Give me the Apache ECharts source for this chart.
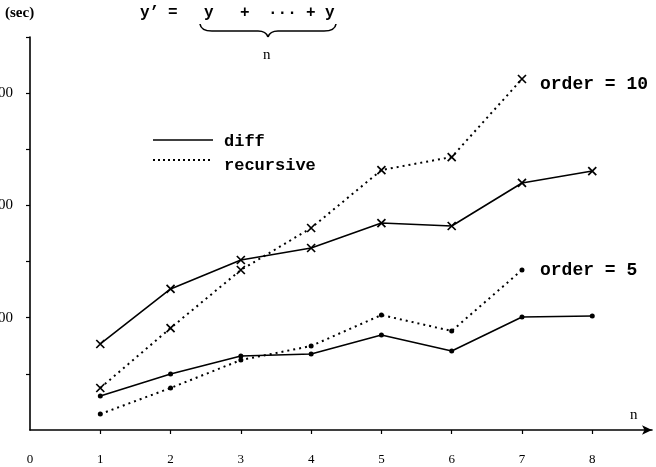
<!DOCTYPE html>
<html>
<head>
<meta charset="utf-8">
<script src="https://cdn.jsdelivr.net/npm/echarts@6/dist/echarts.min.js"></script>
<style>html,body{margin:0;padding:0;background:#fff}#c{width:656px;height:467px}</style>
</head>
<body>
<div id="c"></div>
<script>
const nValues = [1, 2, 3, 4, 5, 6, 7, 8];
const diffOrder10 = [76.6, 125.6, 151.4, 162.1, 184.3, 181.7, 220.0, 230.6];
const recursiveOrder10 = [37.4, 90.8, 142.5, 179.9, 231.5, 243.1, 312.6];
const diffOrder5 = [30.3, 49.9, 65.9, 67.7, 84.6, 70.3, 100.6, 101.5];
const recursiveOrder5 = [14.2, 37.4, 62.3, 74.8, 102.4, 88.2, 142.5];
const xTickLabels = [0, 1, 2, 3, 4, 5, 6, 7, 8];
const yTickLabels = [100, 200, 300];
const yMinorTicks = [50, 100, 150, 200, 250, 300, 350];

const pairs = (vals) => vals.map((v, i) => [nValues[i], v]);
const crossPath = 'path://M0,0L10,10M10,0L0,10';
const serif = '"Liberation Serif", "DejaVu Serif", serif';
const mono = '"Liberation Mono", "DejaVu Sans Mono", monospace';

function makeSeries(name, vals, dotted, cross) {
  return {
    name: name,
    type: 'line',
    data: pairs(vals),
    symbol: cross ? crossPath : 'circle',
    symbolSize: cross ? 8 : 5,
    showSymbol: true,
    itemStyle: cross ? { color: 'rgba(0,0,0,0)', borderColor: '#000', borderWidth: 1.7 } : { color: '#000', borderWidth: 0 },
    lineStyle: { color: '#000', width: dotted ? 2 : 1.6, type: dotted ? [2, 4] : 'solid' },
    emphasis: { disabled: true },
    animation: false
  };
}

const strokeStyle = { fill: 'none', stroke: '#000', lineWidth: 1.6 };

const chart = echarts.init(document.getElementById('c'), null, { renderer: 'canvas' });
chart.setOption({
  backgroundColor: '#fff',
  animation: false,
  grid: { left: 30, right: 4, top: 37, bottom: 37, containLabel: false, outerBoundsMode: 'none' },
  xAxis: {
    type: 'value', min: 0, max: 8.85,
    axisLine: { show: true, lineStyle: { color: '#000', width: 1.6 }, symbol: ['none', 'arrow'], symbolSize: [7, 10] },
    axisTick: { show: true, inside: false, length: 4, lineStyle: { color: '#000', width: 1.2 }, customValues: xTickLabels.slice(1) },
    axisLabel: { show: true, margin: 23, color: '#000', fontFamily: serif, fontSize: 13, customValues: xTickLabels },
    splitLine: { show: false }
  },
  yAxis: {
    type: 'value', min: 0, max: 350,
    axisLine: { show: true, lineStyle: { color: '#000', width: 1.6 } },
    axisTick: { show: true, inside: false, length: 4, lineStyle: { color: '#000', width: 1.2 }, customValues: yMinorTicks },
    axisLabel: { show: true, margin: 17, color: '#000', fontFamily: serif, fontSize: 15, customValues: yTickLabels },
    splitLine: { show: false }
  },
  legend: {
    orient: 'vertical', left: 150, top: 128, itemWidth: 62, itemHeight: 12, itemGap: 7,
    data: [{ name: 'diff', icon: 'none' }, { name: 'recursive', icon: 'none' }],
    textStyle: { fontFamily: mono, fontSize: 17, fontWeight: 'bold', color: '#000', padding: [0, 0, 0, 2] },
    selectedMode: false
  },
  series: [
    makeSeries('diff', diffOrder10, false, true),
    makeSeries('recursive', recursiveOrder10, true, true),
    makeSeries('diff', diffOrder5, false, false),
    makeSeries('recursive', recursiveOrder5, true, false)
  ],
  graphic: [
    { type: 'line', shape: { x1: 153, y1: 140, x2: 213, y2: 140 }, style: { stroke: '#000', lineWidth: 1.6 } },
    { type: 'line', shape: { x1: 153, y1: 160, x2: 213, y2: 160 }, style: { stroke: '#000', lineWidth: 2, lineDash: [2, 3] } },
    { type: 'text', x: 5, y: 6, style: { text: '(sec)', font: 'bold 15px ' + serif, fill: '#000' } },
    { type: 'text', x: 140, y: 5, style: { text: 'y\u2019', font: 'bold 16px ' + mono, fill: '#000' } },
    { type: 'text', x: 168, y: 5, style: { text: '=', font: 'bold 16px ' + mono, fill: '#000' } },
    { type: 'text', x: 204, y: 5, style: { text: 'y', font: 'bold 16px ' + mono, fill: '#000' } },
    { type: 'text', x: 240, y: 5, style: { text: '+', font: 'bold 16px ' + mono, fill: '#000' } },
    { type: 'text', x: 268, y: 5, style: { text: '\u00b7\u00b7\u00b7', font: 'bold 16px ' + mono, fill: '#000' } },
    { type: 'text', x: 306, y: 5, style: { text: '+', font: 'bold 16px ' + mono, fill: '#000' } },
    { type: 'text', x: 325, y: 5, style: { text: 'y', font: 'bold 16px ' + mono, fill: '#000' } },
    { type: 'bezierCurve', shape: { x1: 200, y1: 24, cpx1: 201, cpy1: 31, x2: 212, y2: 31 }, style: strokeStyle },
    { type: 'line', shape: { x1: 212, y1: 31, x2: 258, y2: 31 }, style: strokeStyle },
    { type: 'bezierCurve', shape: { x1: 258, y1: 31, cpx1: 266, cpy1: 31, x2: 268, y2: 37 }, style: strokeStyle },
    { type: 'bezierCurve', shape: { x1: 268, y1: 37, cpx1: 270, cpy1: 31, x2: 278, y2: 31 }, style: strokeStyle },
    { type: 'line', shape: { x1: 278, y1: 31, x2: 324, y2: 31 }, style: strokeStyle },
    { type: 'bezierCurve', shape: { x1: 324, y1: 31, cpx1: 335, cpy1: 31, x2: 336, y2: 24 }, style: strokeStyle },
    { type: 'text', x: 263, y: 48, style: { text: 'n', font: '15px ' + serif, fill: '#000' } },
    { type: 'text', x: 630, y: 408, style: { text: 'n', font: '15px ' + serif, fill: '#000' } },
    { type: 'text', x: 540, y: 75, style: { text: 'order = 10', font: 'bold 18px ' + mono, fill: '#000' } },
    { type: 'text', x: 540, y: 261, style: { text: 'order = 5', font: 'bold 18px ' + mono, fill: '#000' } }
  ]
});
</script>
</body>
</html>
